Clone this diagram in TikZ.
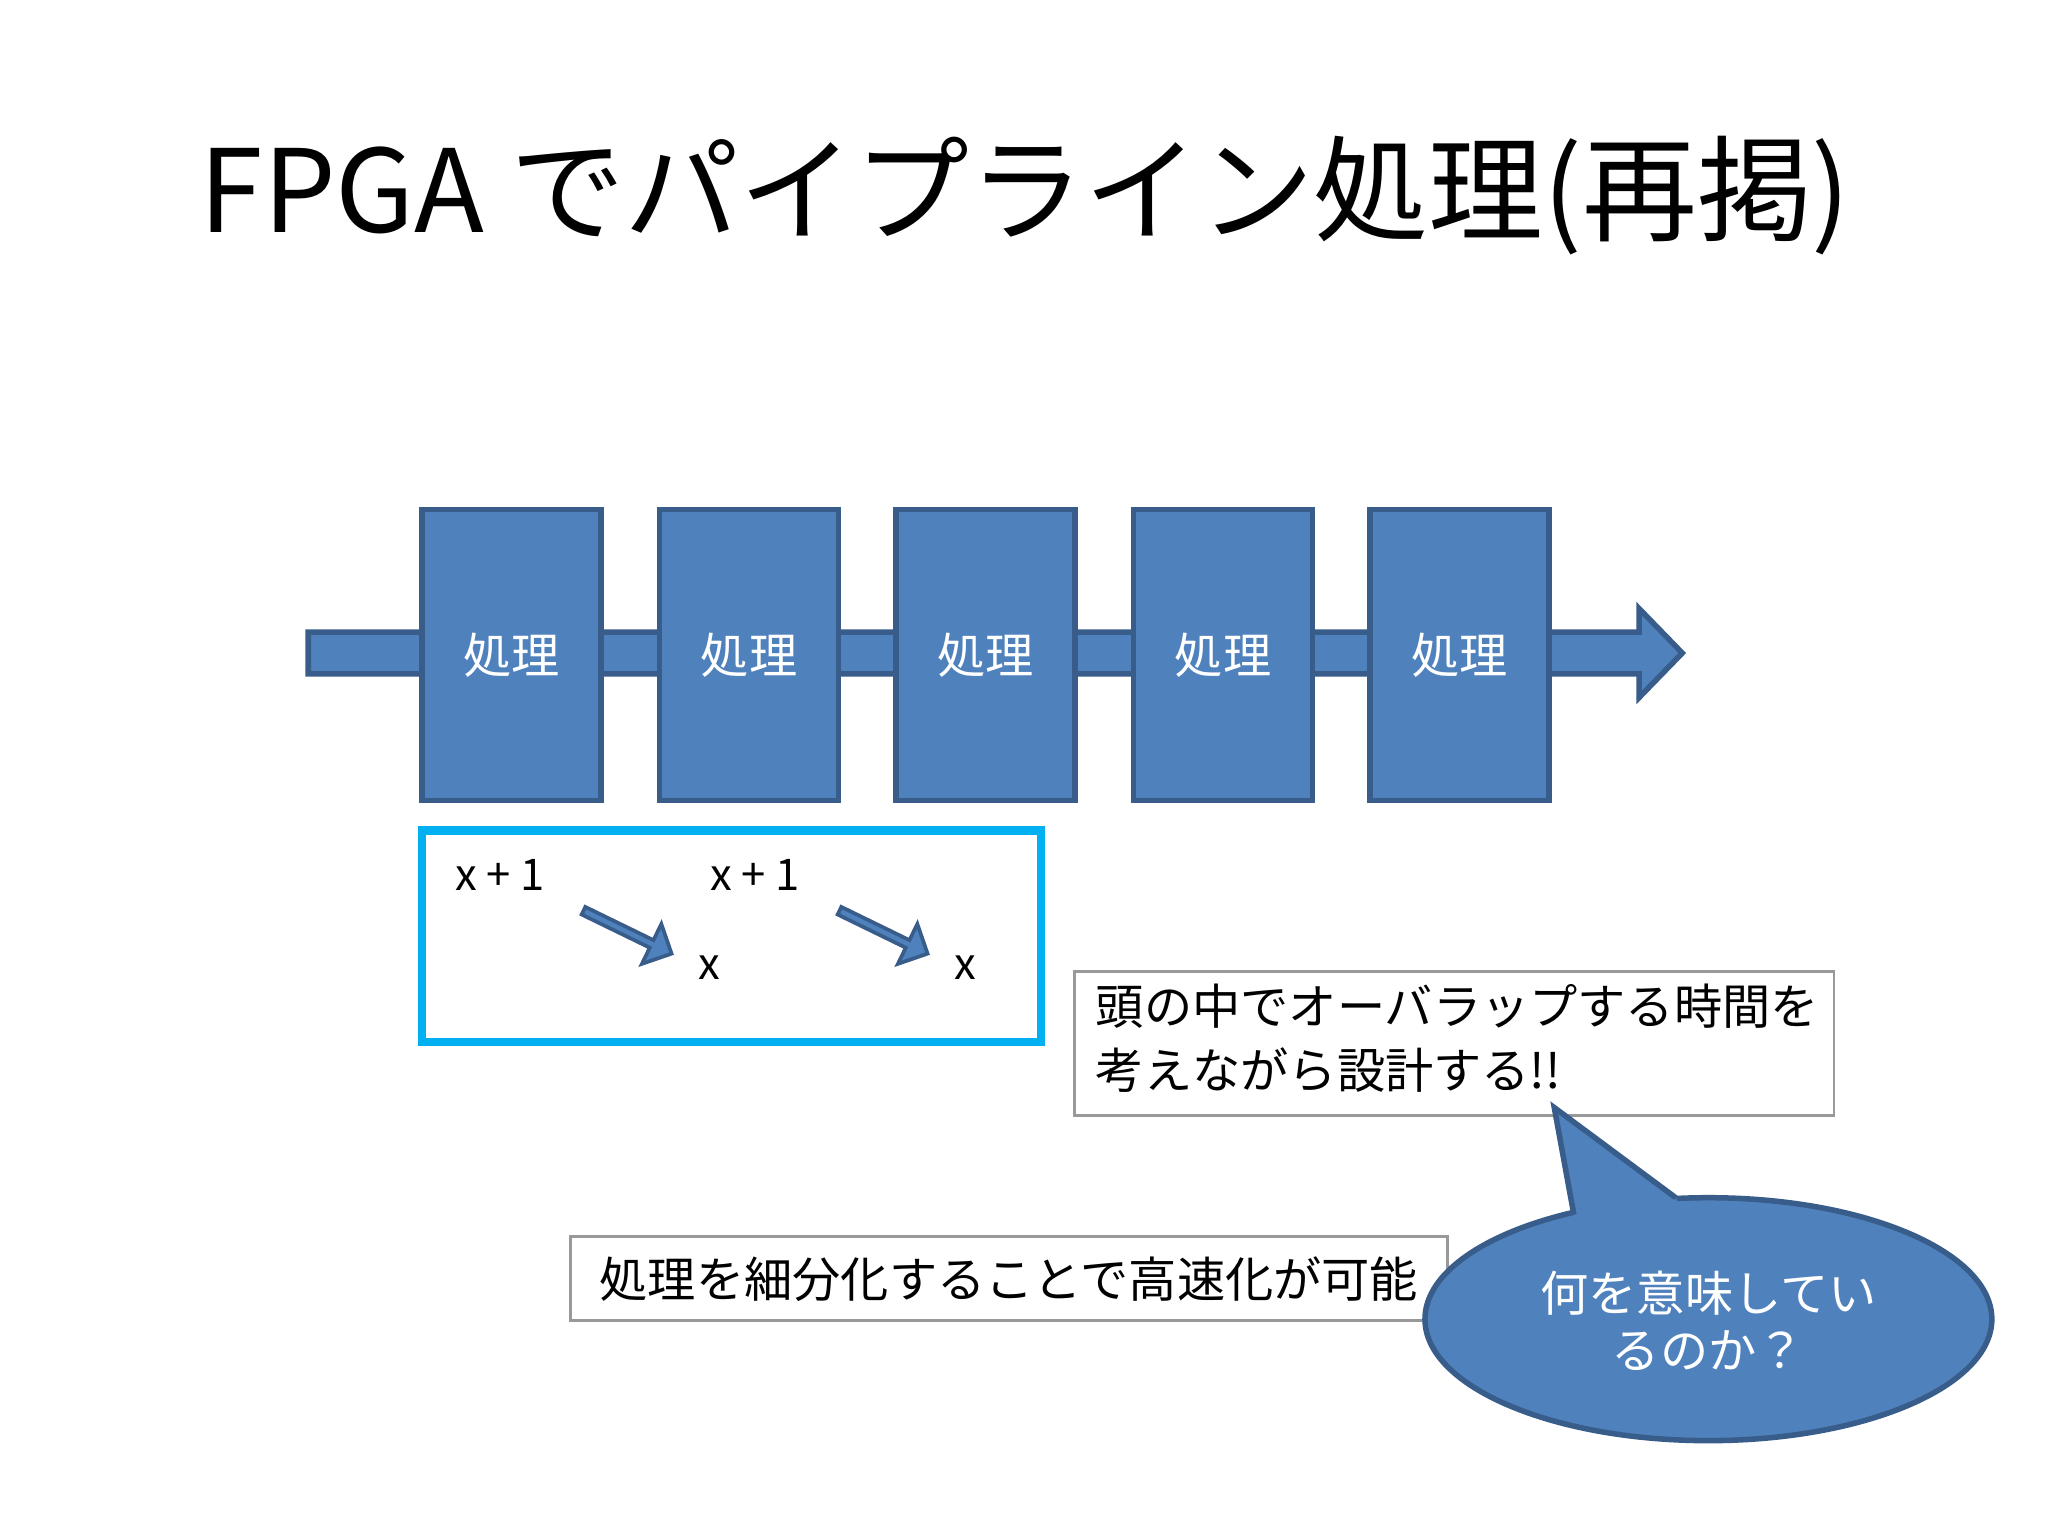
\documentclass[tikz,border=0pt]{standalone}
\usepackage{fontspec}
\setmainfont{Noto Sans CJK JP}
\usetikzlibrary{shapes.arrows}
\definecolor{bfill}{HTML}{4F81BD}
\definecolor{bline}{HTML}{385D8A}
\definecolor{cyanb}{HTML}{00B0F0}
\tikzset{
 stage/.style={draw=bline,fill=bfill,line width=1.2pt,minimum width=1.37cm,minimum height=2.23cm,text=white,font=\fontsize{10.5pt}{12pt}\selectfont},
 note/.style={draw=gray!80,line width=0.6pt,align=left,font=\fontsize{10.5pt}{14pt}\selectfont,inner sep=0pt},
 lbl/.style={font=\fontsize{9.5pt}{11pt}\selectfont},
 sarrow/.style={single arrow,draw=bline,fill=bfill,line width=0.8pt,minimum height=0.75cm,minimum width=0.34cm,single arrow head extend=0.06cm,inner sep=0pt}
}
\begin{document}
\begin{tikzpicture}[x=0.01cm,y=-0.01cm]
\useasboundingbox[fill=white] (0,0) rectangle (1568,1176);
\node[font=\fontsize{25pt}{30pt}\selectfont] (title) at (785,150) {FPGA でパイプライン処理(再掲)};
% main arrow
\path[draw=bline,fill=bfill,line width=1.2pt] (236,484) -- (1255,484) -- (1255,466) -- (1288,500) -- (1255,534) -- (1255,516) -- (236,516) -- cycle;
\foreach \i/\x in {1/391.5,2/573.5,3/754.5,4/936.5,5/1117.5}
  \node[stage] (s\i) at (\x,501.5) {処理};
% cyan box
\node[draw=cyanb,line width=1.8pt,minimum width=4.74cm,minimum height=1.62cm] (cbox) at (560,717) {};
\node[lbl] (a1) at (383,670) {x + 1};
\node[lbl] (a2) at (578,670) {x + 1};
\node[lbl] (b1) at (543,741) {x};
\node[lbl] (b2) at (739,741) {x};
\node[sarrow,rotate=-26] (r1) at (479,713) {};
\node[sarrow,rotate=-26] (r2) at (675,713) {};
% note
\node[draw=gray!80,line width=0.6pt,minimum width=5.81cm,minimum height=1.10cm] (n1) at (1113.5,799) {};
\node[note,draw=none,anchor=north west] (n1t) at (838,752) {頭の中でオーバラップする時間を\\考えながら設計する!!};
\node[draw=gray!80,line width=0.6pt,minimum width=6.71cm,minimum height=0.64cm,font=\fontsize{10.5pt}{12pt}\selectfont] (n2) at (772.5,979) {処理を細分化することで高速化が可能};
% callout
\path[draw=bline,fill=bfill,line width=1.2pt] (1308,1010) ellipse [x radius=217,y radius=93];
\fill[bfill] (1207,940) -- (1190,848) -- (1283,917) -- (1290,935) -- cycle;
\draw[bline,line width=1.2pt] (1205,930) -- (1190,848) -- (1283,917);
\node[text=white,align=center,font=\fontsize{10.5pt}{12.5pt}\selectfont] (ct) at (1308,1011) {何を意味してい\\るのか？};
\end{tikzpicture}
\end{document}
